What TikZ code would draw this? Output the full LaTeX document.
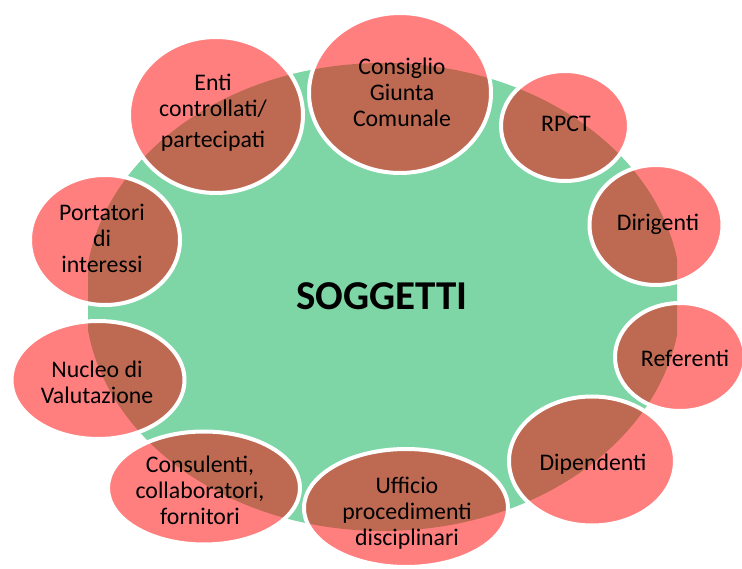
\documentclass[tikz,border=0pt]{standalone}
\usepackage{fontspec}
\setmainfont{Carlito}
\usetikzlibrary{shapes.geometric}
\definecolor{bggreen}{RGB}{126,214,167}
\definecolor{circred}{RGB}{255,0,0}
\tikzset{
  bubble/.style={ellipse, inner sep=0pt, fill=circred, fill opacity=0.5, draw=white, draw opacity=1, line width=4pt},
  lbl/.style={align=center, text=black, inner sep=0pt, font=\fontsize{23.8}{26}\selectfont},
}
\begin{document}
\begin{tikzpicture}[x=1pt,y=-1pt]
\useasboundingbox (0,0) rectangle (742,569);
\begin{scope}
  \clip (88,0) rectangle (677,569);
  \fill[bggreen] (383,297) ellipse [x radius=298, y radius=234];
\end{scope}
\node[font=\bfseries\fontsize{41}{46}\selectfont, inner sep=0pt] (center) at (382,296) {SOGGETTI};
% bubbles
\node[bubble, minimum width=182pt, minimum height=160pt] (s1) at (400,93) {};
\node[bubble, minimum width=128pt, minimum height=110pt] (s2) at (565,126) {};
\node[bubble, minimum width=133pt, minimum height=120pt] (s3) at (656,225) {};
\node[bubble, minimum width=130pt, minimum height=108pt] (s4) at (680,357) {};
\node[bubble, minimum width=166pt, minimum height=129pt] (s5) at (592,461) {};
\node[bubble, minimum width=204pt, minimum height=118pt] (s6) at (406,508) {};
\node[bubble, minimum width=192pt, minimum height=113pt] (s7) at (204,488) {};
\node[bubble, minimum width=173pt, minimum height=118pt] (s8) at (98,380) {};
\node[bubble, minimum width=150pt, minimum height=130pt] (s9) at (105,240) {};
\node[bubble, minimum width=174pt, minimum height=156pt] (s10) at (216,115) {};
% labels
\node[lbl] (t1) at (402,92) {Consiglio\\Giunta\\Comunale};
\node[lbl] (t2) at (566,124) {RPCT};
\node[lbl] (t3) at (658,224) {Dirigenti};
\node[lbl] (t4) at (685,358) {Referenti};
\node[lbl] (t5) at (593,464) {Dipendenti};
\node[lbl] (t6) at (407,513) {Ufficio\\procedimenti\\disciplinari};
\node[lbl] (t7) at (200,490) {Consulenti,\\collaboratori,\\fornitori};
\node[lbl] (t8) at (97,382) {Nucleo di\\Valutazione};
\node[lbl] (t9) at (102,238) {Portatori\\di\\interessi};
\node[lbl] (t10) at (213,113) {Enti\\controllati/\\[5pt]partecipati};
\end{tikzpicture}
\end{document}
